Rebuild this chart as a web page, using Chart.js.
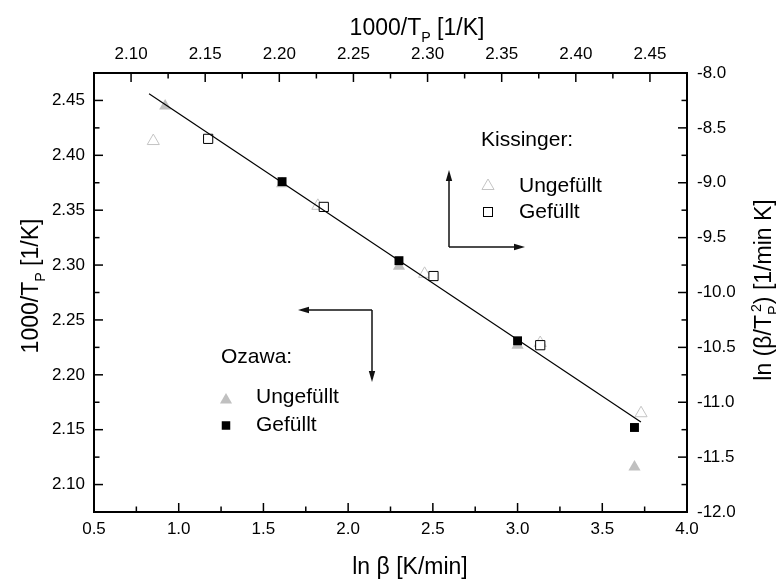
<!DOCTYPE html>
<html>
<head>
<meta charset="utf-8">
<script src="https://cdn.jsdelivr.net/npm/chart.js@4"></script>
<style>
  body { margin: 0; background: #fff; }
  canvas { display: block; }
</style>
</head>
<body>
<canvas id="chart" width="776" height="579"></canvas>
<script>
// === Data ===
// Ozawa: ln beta (bottom axis) vs 1000/Tp (left axis)
const ozawaUngefuelltX = [0.92, 1.61, 2.30, 3.00, 3.69];
const ozawaUngefuelltY = [2.445, 2.374, 2.299, 2.227, 2.116];
const ozawaGefuelltX = [1.61, 2.30, 3.00, 3.69];
const ozawaGefuelltY = [2.376, 2.304, 2.231, 2.152];
// Kissinger: 1000/Tp (top axis) vs ln(beta/Tp^2) (right axis)
const kissUngefuelltX = [2.115, 2.226, 2.298, 2.376, 2.444];
const kissUngefuelltY = [-8.62, -9.21, -9.83, -10.46, -11.10];
const kissGefuelltX = [2.152, 2.230, 2.304, 2.376];
const kissGefuelltY = [-8.60, -9.22, -9.85, -10.48];
// fitted line (bottom / left axes)
const fitX = [0.825, 3.728];
const fitY = [2.456, 2.157];

// tick labels
const bottomTicks = [0.5, 1.0, 1.5, 2.0, 2.5, 3.0, 3.5, 4.0];
const topTicks = [2.10, 2.15, 2.20, 2.25, 2.30, 2.35, 2.40, 2.45];
const leftTicks = [2.10, 2.15, 2.20, 2.25, 2.30, 2.35, 2.40, 2.45];
const rightTicks = [-12.0, -11.5, -11.0, -10.5, -10.0, -9.5, -9.0, -8.5, -8.0];

const FONT = '"Liberation Sans", Arial, Helvetica, sans-serif';
const fontStr = (size) => `${size}px ${FONT}`;
const toPoints = (xs, ys) => xs.map((x, i) => ({ x, y: ys[i] }));

// === Helpers ===
function minorValues(ticks, min, max) {
  const step = ticks[1] - ticks[0];
  const out = [];
  for (let v = ticks[0] - step / 2; v < max - 1e-9; v += step) {
    if (v > min + 1e-9) out.push(v);
  }
  return out;
}

function richWidth(ctx, parts, size) {
  let w = 0;
  parts.forEach(p => {
    if (p.sub || p.sup) {
      ctx.font = fontStr(size * 0.62);
      const a = p.sub ? ctx.measureText(p.sub).width : 0;
      const b = p.sup ? ctx.measureText(p.sup).width + (p.supShift || 0) : 0;
      w += Math.max(a, b);
    } else {
      ctx.font = fontStr(size);
      w += ctx.measureText(p.t).width;
    }
  });
  return w;
}

function drawRich(ctx, parts, size, cx, cy, angle) {
  ctx.save();
  ctx.translate(cx, cy);
  ctx.rotate(angle);
  const w = richWidth(ctx, parts, size);
  let x = -w / 2;
  const base = size * 0.36;
  ctx.textAlign = 'left';
  ctx.textBaseline = 'alphabetic';
  ctx.fillStyle = '#000';
  parts.forEach(p => {
    if (p.sub || p.sup) {
      ctx.font = fontStr(size * 0.62);
      let adv = 0;
      if (p.sub) {
        ctx.fillText(p.sub, x, base + size * 0.28);
        adv = ctx.measureText(p.sub).width;
      }
      if (p.sup) {
        const s = p.supShift || 0;
        ctx.fillText(p.sup, x + s, base - size * 0.45);
        adv = Math.max(adv, ctx.measureText(p.sup).width + s);
      }
      x += adv;
    } else {
      ctx.font = fontStr(size);
      ctx.fillText(p.t, x, base);
      x += ctx.measureText(p.t).width;
    }
  });
  ctx.restore();
}

function arrow(ctx, x1, y1, x2, y2) {
  const ang = Math.atan2(y2 - y1, x2 - x1);
  const len = 11, half = 3.2;
  ctx.beginPath();
  ctx.moveTo(x1, y1);
  ctx.lineTo(x2 - Math.cos(ang) * len, y2 - Math.sin(ang) * len);
  ctx.stroke();
  ctx.beginPath();
  ctx.moveTo(x2, y2);
  ctx.lineTo(x2 - Math.cos(ang) * len - Math.sin(ang) * half, y2 - Math.sin(ang) * len + Math.cos(ang) * half);
  ctx.lineTo(x2 - Math.cos(ang) * len + Math.sin(ang) * half, y2 - Math.sin(ang) * len - Math.cos(ang) * half);
  ctx.closePath();
  ctx.fill();
}

function triangle(ctx, x, y, r, fill, stroke) {
  ctx.beginPath();
  ctx.moveTo(x, y - r);
  ctx.lineTo(x + r * Math.sin(Math.PI * 2 / 3), y + r / 2);
  ctx.lineTo(x - r * Math.sin(Math.PI * 2 / 3), y + r / 2);
  ctx.closePath();
  if (fill) { ctx.fillStyle = fill; ctx.fill(); }
  if (stroke) { ctx.strokeStyle = stroke; ctx.lineWidth = 1; ctx.stroke(); }
}

function square(ctx, x, y, side, fill, stroke) {
  if (fill) { ctx.fillStyle = fill; ctx.fillRect(x - side / 2, y - side / 2, side, side); }
  if (stroke) { ctx.strokeStyle = stroke; ctx.lineWidth = 1; ctx.strokeRect(x - side / 2, y - side / 2, side, side); }
}

// === Frame, inward ticks, titles, legends ===
const decorations = {
  id: 'decorations',
  afterDraw(chart) {
    const { ctx, chartArea: a, scales } = chart;
    ctx.save();

    // inward tick marks
    ctx.strokeStyle = '#000';
    ctx.lineWidth = 1.5;
    const sides = [
      { scale: scales.x, ticks: bottomTicks, side: 'bottom' },
      { scale: scales.x2, ticks: topTicks, side: 'top' },
      { scale: scales.y, ticks: leftTicks, side: 'left' },
      { scale: scales.y2, ticks: rightTicks, side: 'right' }
    ];
    sides.forEach(({ scale, ticks, side }) => {
      const mk = (v, len) => {
        const p = scale.getPixelForValue(v);
        ctx.beginPath();
        if (side === 'bottom') { ctx.moveTo(p, a.bottom); ctx.lineTo(p, a.bottom - len); }
        if (side === 'top') { ctx.moveTo(p, a.top); ctx.lineTo(p, a.top + len); }
        if (side === 'left') { ctx.moveTo(a.left, p); ctx.lineTo(a.left + len, p); }
        if (side === 'right') { ctx.moveTo(a.right, p); ctx.lineTo(a.right - len, p); }
        ctx.stroke();
      };
      ticks.forEach(v => mk(v, 9));
      minorValues(ticks, scale.min, scale.max).forEach(v => mk(v, 5.5));
    });

    // frame
    ctx.lineWidth = 2;
    ctx.strokeRect(a.left, a.top, a.right - a.left, a.bottom - a.top);

    // axis titles
    drawRich(ctx, [{ t: '1000/T' }, { sub: 'P' }, { t: ' [1/K]' }], 23, 417, 27, 0);
    drawRich(ctx, [{ t: 'ln \u03b2 [K/min]' }], 23, 410, 566, 0);
    drawRich(ctx, [{ t: '1000/T' }, { sub: 'P' }, { t: ' [1/K]' }], 23, 30, 286, -Math.PI / 2);
    drawRich(ctx, [{ t: 'ln (\u03b2/T' }, { sub: 'P', sup: '2', supShift: 3 }, { t: ') [1/min K]' }], 23, 763, 290, -Math.PI / 2);

    // legends
    ctx.fillStyle = '#000';
    ctx.textAlign = 'left';
    ctx.textBaseline = 'middle';
    ctx.font = fontStr(21);
    ctx.fillText('Kissinger:', 481, 140);
    ctx.fillText('Ungef\u00fcllt', 519, 186);
    ctx.fillText('Gef\u00fcllt', 519, 212);
    ctx.fillText('Ozawa:', 221, 357);
    ctx.fillText('Ungef\u00fcllt', 256, 397);
    ctx.fillText('Gef\u00fcllt', 256, 425);
    triangle(ctx, 488, 186, 7, '#fff', '#c4c4c4');
    square(ctx, 488, 212, 9, '#fff', '#000');
    triangle(ctx, 226, 400, 7, '#c0c0c0', null);
    square(ctx, 226, 425.5, 8.5, '#000', null);

    // arrows
    ctx.strokeStyle = '#111';
    ctx.fillStyle = '#111';
    ctx.lineWidth = 1.5;
    arrow(ctx, 449, 247, 449, 170);
    arrow(ctx, 449, 247, 525, 247);
    arrow(ctx, 372, 310, 298, 310);
    arrow(ctx, 372, 310, 372, 382);

    ctx.restore();
  }
};

const tickFont = { family: FONT, size: 17 };

new Chart(document.getElementById('chart'), {
  type: 'scatter',
  data: {
    datasets: [
      {
        label: 'Fit',
        data: toPoints(fitX, fitY),
        xAxisID: 'x', yAxisID: 'y',
        showLine: true,
        borderColor: '#000',
        borderWidth: 1.2,
        pointRadius: 0,
        order: 1
      },
      {
        label: 'Ozawa Gefüllt',
        data: toPoints(ozawaGefuelltX, ozawaGefuelltY),
        xAxisID: 'x', yAxisID: 'y',
        pointStyle: 'rect', pointRadius: 6.3,
        backgroundColor: '#000', borderColor: '#000', borderWidth: 0,
        order: 2
      },
      {
        label: 'Kissinger Gefüllt',
        data: toPoints(kissGefuelltX, kissGefuelltY),
        xAxisID: 'x2', yAxisID: 'y2',
        pointStyle: 'rect', pointRadius: 6.5,
        backgroundColor: '#fff', borderColor: '#000', borderWidth: 1,
        order: 3
      },
      {
        label: 'Ozawa Ungefüllt',
        data: toPoints(ozawaUngefuelltX, ozawaUngefuelltY),
        xAxisID: 'x', yAxisID: 'y',
        pointStyle: 'triangle', pointRadius: 7,
        backgroundColor: '#c0c0c0', borderColor: '#c0c0c0', borderWidth: 0,
        order: 4
      },
      {
        label: 'Kissinger Ungefüllt',
        data: toPoints(kissUngefuelltX, kissUngefuelltY),
        xAxisID: 'x2', yAxisID: 'y2',
        pointStyle: 'triangle', pointRadius: 7,
        backgroundColor: 'rgba(255,255,255,0)', borderColor: '#c4c4c4', borderWidth: 1,
        order: 5
      }
    ]
  },
  options: {
    responsive: false,
    animation: false,
    devicePixelRatio: 1,
    layout: { padding: 0 },
    plugins: { legend: { display: false }, tooltip: { enabled: false } },
    scales: {
      x: {
        type: 'linear', position: 'bottom', min: 0.5, max: 4.0,
        grid: { display: false, drawTicks: false }, border: { display: false },
        ticks: { font: tickFont, color: '#000', padding: 7, maxRotation: 0, callback: v => v.toFixed(1) },
        afterBuildTicks: s => { s.ticks = bottomTicks.map(v => ({ value: v })); },
        afterFit: s => { s.height = 67; }
      },
      x2: {
        type: 'linear', position: 'top', min: 2.075, max: 2.475,
        grid: { display: false, drawTicks: false }, border: { display: false },
        ticks: { font: tickFont, color: '#000', padding: 8, maxRotation: 0, callback: v => v.toFixed(2) },
        afterBuildTicks: s => { s.ticks = topTicks.map(v => ({ value: v })); },
        afterFit: s => { s.height = 73; }
      },
      y: {
        type: 'linear', position: 'left', min: 2.075, max: 2.475,
        grid: { display: false, drawTicks: false }, border: { display: false },
        ticks: { font: tickFont, color: '#000', padding: 9, callback: v => v.toFixed(2) },
        afterBuildTicks: s => { s.ticks = leftTicks.map(v => ({ value: v })); },
        afterFit: s => { s.width = 94; }
      },
      y2: {
        type: 'linear', position: 'right', min: -12, max: -8,
        grid: { display: false, drawTicks: false }, border: { display: false },
        ticks: { font: tickFont, color: '#000', padding: 10, callback: v => v.toFixed(1) },
        afterBuildTicks: s => { s.ticks = rightTicks.map(v => ({ value: v })); },
        afterFit: s => { s.width = 89; }
      }
    }
  },
  plugins: [decorations]
});
</script>
</body>
</html>
